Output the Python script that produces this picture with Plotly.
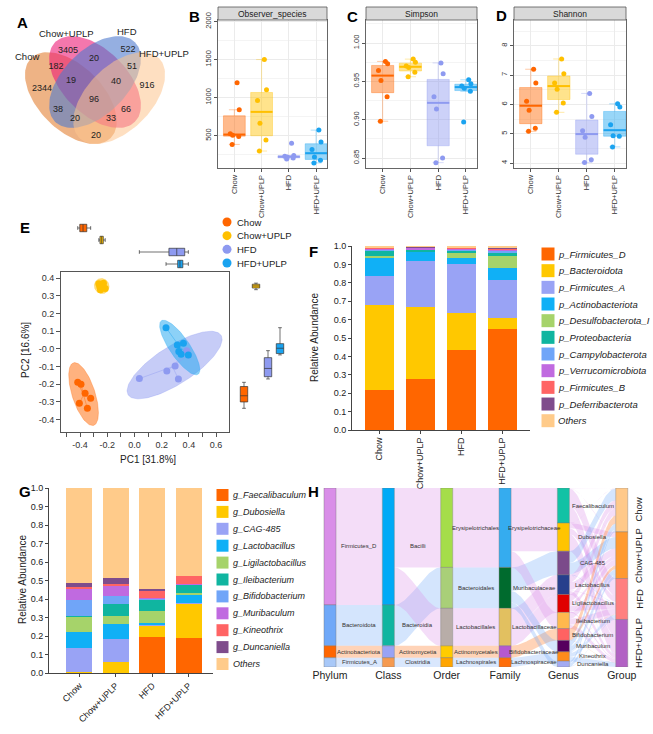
import numpy as np
import plotly.graph_objects as go

W, H = 653, 734
FONT = "Liberation Sans, Arial, Helvetica, sans-serif"

# ---------------- data ----------------
groups = ["Chow", "Chow+UPLP", "HFD", "HFD+UPLP"]
group_colors = ["#FF6600", "#FFC000", "#8E9AF0", "#1AA3F0"]

# A: Venn diagram
venn_set_names = ["Chow", "Chow+UPLP", "HFD", "HFD+UPLP"]
venn_region_counts = [2344, 3405, 522, 916, 182, 20, 51, 19, 40, 96, 38, 66, 20, 33, 20]

# B-D: alpha diversity (6 mice per group)
observed_species = [[1195, 840, 525, 505, 490, 385],
                    [1500, 1103, 961, 664, 444, 298],
                    [400, 240, 228, 218, 205, 192],
                    [573, 418, 319, 220, 177, 142]]
simpson_index = [[0.976, 0.973, 0.964, 0.951, 0.930, 0.898],
                 [0.979, 0.975, 0.970, 0.968, 0.962, 0.956],
                 [0.974, 0.960, 0.930, 0.914, 0.850, 0.844],
                 [0.952, 0.947, 0.944, 0.941, 0.937, 0.897]]
shannon_index = [[7.20, 6.73, 6.11, 5.80, 5.19, 5.08],
                 [7.55, 7.05, 6.73, 6.52, 6.05, 5.73],
                 [6.375, 5.59, 5.10, 4.875, 4.11, 4.02],
                 [6.02, 5.91, 5.31, 4.93, 4.91, 4.55]]

# E: PCoA scores
pc1_scores = [[-0.417, -0.393, -0.363, -0.322, -0.405, -0.346],
              [-0.262, -0.228, -0.250, -0.215, -0.255, -0.232],
              [0.036, 0.238, 0.299, 0.323, 0.385, 0.396],
              [0.232, 0.315, 0.360, 0.326, 0.343, 0.396]]
pc2_scores = [[-0.189, -0.200, -0.251, -0.279, -0.307, -0.336],
              [0.368, 0.372, 0.335, 0.342, 0.352, 0.360],
              [-0.168, -0.125, -0.096, -0.170, -0.010, -0.034],
              [0.120, 0.0225, 0.032, -0.015, -0.030, -0.034]]

# F: phylum composition
phylum_names = ["p_Firmicutes_D", "p_Bacteroidota", "p_Firmicutes_A", "p_Actinobacteriota",
                "p_Desulfobacterota_I", "p_Proteobacteria", "p_Campylobacterota",
                "p_Verrucomicrobiota", "p_Firmicutes_B", "p_Deferribacterota", "Others"]
phylum_colors = ["#FF6600", "#FFC800", "#99A3F5", "#10B0F6", "#A6D36A", "#10B5A0",
                 "#70A5F8", "#C06AE0", "#FF6464", "#7F4C8C", "#FFCB8A"]
phylum_abundance = [[0.220, 0.280, 0.437, 0.550],
                    [0.460, 0.390, 0.200, 0.060],
                    [0.155, 0.248, 0.267, 0.204],
                    [0.100, 0.050, 0.030, 0.068],
                    [0.012, 0.005, 0.033, 0.062],
                    [0.030, 0.006, 0.009, 0.023],
                    [0.005, 0.004, 0.006, 0.008],
                    [0.005, 0.008, 0.004, 0.005],
                    [0.005, 0.003, 0.007, 0.005],
                    [0.003, 0.002, 0.002, 0.008],
                    [0.005, 0.004, 0.005, 0.007]]

# G: genus composition
genus_names = ["Faecalibaculum", "Dubosiella", "CAG-485", "Lactobacillus", "Ligilactobacillus",
               "Ileibacterium", "Bifidobacterium", "Muribaculum", "Kineothrix", "Duncaniella"]
genus_bar_colors = ["#FF6600", "#FFC800", "#99A3F5", "#10B0F6", "#A6D36A", "#10B5A0",
                    "#70A5F8", "#C06AE0", "#FF6464", "#7F4C8C", "#FFCB8A"]
genus_abundance = [[0.003, 0.002, 0.194, 0.189],
                   [0.002, 0.056, 0.065, 0.189],
                   [0.130, 0.125, 0.005, 0.002],
                   [0.085, 0.083, 0.006, 0.043],
                   [0.083, 0.040, 0.063, 0.012],
                   [0.003, 0.068, 0.066, 0.042],
                   [0.088, 0.040, 0.002, 0.001],
                   [0.065, 0.057, 0.002, 0.002],
                   [0.005, 0.009, 0.044, 0.045],
                   [0.022, 0.036, 0.006, 0.001],
                   [0.514, 0.484, 0.547, 0.474]]

# H: taxonomy of the top genera
sankey_axes = ["Phylum", "Class", "Order", "Family", "Genus", "Group"]
sk_phyla = ["Firmicutes_D", "Bacteroidota", "Actinobacteriota", "Firmicutes_A"]
sk_classes = ["Bacilli", "Bacteroidia", "Actinomycetia", "Clostridia"]
sk_orders = ["Erysipelotrichales", "Bacteroidales", "Lactobacillales", "Actinomycetales", "Lachnospirales"]
sk_families = ["Erysipelotrichaceae", "Muribaculaceae", "Lactobacillaceae", "Bifidobacteriaceae", "Lachnospiraceae"]
genus_family = ["Erysipelotrichaceae", "Erysipelotrichaceae", "Muribaculaceae", "Lactobacillaceae",
                "Lactobacillaceae", "Erysipelotrichaceae", "Bifidobacteriaceae", "Muribaculaceae",
                "Lachnospiraceae", "Muribaculaceae"]
family_order = ["Erysipelotrichales", "Bacteroidales", "Lactobacillales", "Actinomycetales", "Lachnospirales"]
order_class = ["Bacilli", "Bacteroidia", "Bacilli", "Actinomycetia", "Clostridia"]
class_phylum = ["Firmicutes_D", "Bacteroidota", "Actinobacteriota", "Firmicutes_A"]

sk_phylum_colors = ["#D98EE8", "#6FA8F8", "#FF6600", "#A8C8F8"]
sk_class_colors = ["#00AAF6", "#10B5A0", "#99A3F5", "#F59A50"]
sk_order_colors = ["#A5DD4A", "#A9CF78", "#B8ADA8", "#FFCC00", "#FFA500"]
sk_family_colors = ["#35ACEF", "#006B2E", "#E2C060", "#B559D0", "#FF6E0A"]
sk_genus_colors = ["#12C2A5", "#FFC400", "#7B4A8A", "#263F8C", "#E00000", "#FFB84D",
                   "#FF6262", "#56005E", "#FF8C1A", "#A3AAF2"]
sk_group_colors = ["#FFC98A", "#FF9A30", "#FF8080", "#B262C4"]
sk_flow_colors = ["rgba(218,142,232,0.30)", "rgba(111,168,248,0.30)",
                  "rgba(255,130,50,0.35)", "rgba(130,175,248,0.30)"]


# ---------------- helpers ----------------
def xdom(a, b):
    return [a / W, b / W]


def ydom(top, bot):
    return [1 - bot / H, 1 - top / H]


def rgba(hexc, a):
    h = hexc.lstrip("#")
    r, g, b = int(h[0:2], 16), int(h[2:4], 16), int(h[4:6], 16)
    return f"rgba({r},{g},{b},{a})"


def ticks_range(lo, hi, step):
    vals = np.round(np.arange(lo, hi + step / 2, step), 6)
    return list(vals), [f"{v:.1f}" for v in vals]


fig = go.Figure()
annotations = []
shapes = []
layout = dict(width=W, height=H, margin=dict(l=0, r=0, t=0, b=0, autoexpand=False),
              paper_bgcolor="white", plot_bgcolor="rgba(0,0,0,0)", showlegend=False,
              font=dict(family=FONT, color="#222", size=9), barmode="stack")


def ann(x, y, text, size=9, ref="paper", **kw):
    if ref == "paper":
        d = dict(x=x / W, y=1 - y / H, xref="paper", yref="paper")
    else:
        d = dict(x=x, y=y, xref=ref[0], yref=ref[1])
    d.update(text=text, showarrow=False, xanchor="center", yanchor="middle",
             font=dict(size=size, family=FONT, color=kw.pop("color", "#222")))
    d.update(kw)
    annotations.append(d)


# overlay axis in pixel units (venn + legends)
layout["xaxis"] = dict(domain=[0, 1], range=[0, W], visible=False)
layout["yaxis"] = dict(domain=[0, 1], range=[H, 0], visible=False)

# ---------------- A: Venn ----------------
venn_cx = [0.35, 0.5, 0.5, 0.65]
venn_cy = [0.47, 0.57, 0.57, 0.47]
venn_rot = [-45, -45, 45, 45]
venn_fills = ["rgba(228,132,58,0.62)", "rgba(236,28,118,0.60)", "rgba(78,122,205,0.60)",
              "rgba(253,196,142,0.55)"]
tt = np.linspace(0, 2 * np.pi, 120)
for i in range(4):
    ang = np.radians(venn_rot[i])
    ux = venn_cx[i] + 0.35 * np.cos(tt) * np.cos(ang) - 0.2 * np.sin(tt) * np.sin(ang)
    uy = venn_cy[i] + 0.35 * np.cos(tt) * np.sin(ang) + 0.2 * np.sin(tt) * np.cos(ang)
    fig.add_trace(go.Scatter(x=25 + (ux - 0.065) * 161, y=144 - (uy - 0.185) * 161,
                             mode="lines", fill="toself", fillcolor=venn_fills[i],
                             line=dict(width=0), hoverinfo="skip", xaxis="x", yaxis="y"))
venn_region_pos = [(42, 89), (68, 51), (128, 50), (147, 86), (56, 67), (94, 59), (132, 67),
                   (71, 81), (116, 82), (94, 100), (58, 110), (126, 110), (75, 119), (111, 119), (96, 136)]
fig.add_trace(go.Scatter(x=[p[0] for p in venn_region_pos], y=[p[1] for p in venn_region_pos],
                         mode="text", text=[str(c) for c in venn_region_counts],
                         textfont=dict(size=9, family=FONT, color="#222"), xaxis="x", yaxis="y"))
venn_label_pos = [(27, 56), (66, 33), (127, 31), (164, 53)]
for (px, py), name in zip(venn_label_pos, venn_set_names):
    ann(px, py, name, size=9.5)

# ---------------- B-D: boxplots ----------------
JIT = [0.10, 0.18, -0.15, -0.06, 0.16, -0.08]
alpha_panels = [("Observer_species", observed_species, 218, 327, [75, 2020], 500, 250, None),
                ("Simpson", simpson_index, 366, 477, [0.837, 1.03], 0.05, 0.025, ".2f"),
                ("Shannon", shannon_index, 514, 626, [3.83, 8.88], 1, 0.5, None)]
for k, (title, data, x0, x1, yr, dt, mdt, fmt) in enumerate(alpha_panels):
    ax = k + 2
    xa, ya = f"x{ax}", f"y{ax}"
    for i, vals in enumerate(data):
        v = np.asarray(vals, dtype=float)
        q1, med, q3 = np.percentile(v, [25, 50, 75])
        iqr = q3 - q1
        lo = v[v >= q1 - 1.5 * iqr].min()
        hi = v[v <= q3 + 1.5 * iqr].max()
        c = group_colors[i]
        fig.add_trace(go.Box(x=[i], q1=[q1], median=[med], q3=[q3], lowerfence=[lo], upperfence=[hi],
                             width=0.8, fillcolor=rgba(c, 0.45), line=dict(color=rgba(c, 0.35), width=1),
                             boxpoints=False, xaxis=xa, yaxis=ya, hoverinfo="skip"))
        fig.add_trace(go.Scatter(x=[i - 0.4, i + 0.4], y=[med, med], mode="lines",
                                 line=dict(color=c, width=2), xaxis=xa, yaxis=ya))
        fig.add_trace(go.Scatter(x=[i + j for j in JIT[:len(v)]], y=v, mode="markers",
                                 marker=dict(color=c, size=5), xaxis=xa, yaxis=ya))
    layout[f"xaxis{ax}"] = dict(domain=xdom(x0, x1), range=[-0.6, 3.4], anchor=ya,
                                tickvals=[0, 1, 2, 3], ticktext=groups, tickangle=-90,
                                tickfont=dict(size=7.5, color="#333"), showgrid=True, gridcolor="#EBEBEB",
                                showline=True, mirror=True, linecolor="#666", linewidth=0.8,
                                ticks="outside", ticklen=3, tickcolor="#555", zeroline=False)
    yd = dict(domain=ydom(20, 168), range=yr, anchor=xa, dtick=dt, tick0=0, tickangle=-90,
              tickfont=dict(size=7.5, color="#333"), showgrid=True, gridcolor="#EBEBEB",
              minor=dict(dtick=mdt, showgrid=True, gridcolor="#F4F4F4"),
              showline=True, mirror=True, linecolor="#666", linewidth=0.8,
              ticks="outside", ticklen=3, tickcolor="#555", zeroline=False)
    if fmt:
        yd["tickformat"] = fmt
    layout[f"yaxis{ax}"] = yd
    shapes.append(dict(type="rect", xref="paper", yref="paper", x0=x0 / W, x1=x1 / W,
                       y0=1 - 20 / H, y1=1 - 7 / H, fillcolor="#D9D9D9",
                       line=dict(color="#555", width=0.8)))
    ann((x0 + x1) / 2, 13.5, title, size=8.5)

# ---------------- E: PCoA ----------------
def cov_trob(X, nu=5, maxit=25, tol=0.01):
    n, p = X.shape
    loc = X.mean(0)
    w = np.ones(n)
    Xc = X - loc
    for _ in range(maxit):
        w0 = w
        Xc = X - loc
        S = (Xc * (w / w.sum())[:, None]).T @ Xc
        Q = np.einsum("ij,jk,ik->i", Xc, np.linalg.inv(S), Xc)
        w = (nu + p) / (nu + Q)
        loc = (w[:, None] * X).sum(0) / w.sum()
        if np.all(np.abs(w - w0) < tol):
            break
    cov = (w[:, None] * Xc).T @ Xc / n
    return loc, cov


for i in range(4):
    X = np.column_stack([pc1_scores[i], pc2_scores[i]])
    loc, cov = cov_trob(X)
    d = X.shape[0] - 1
    fq = d / 2 * ((0.05) ** (-2 / d) - 1)
    radius = np.sqrt(2 * fq)
    L = np.linalg.cholesky(cov)
    circ = np.column_stack([np.cos(tt), np.sin(tt)])
    ell = loc + radius * circ @ L.T
    fig.add_trace(go.Scatter(x=ell[:, 0], y=ell[:, 1], mode="lines", fill="toself",
                             fillcolor=rgba(group_colors[i], 0.5), line=dict(width=0.6, color=rgba(group_colors[i], 0.5)),
                             xaxis="x5", yaxis="y5", hoverinfo="skip"))
for i in range(4):
    mx, my = np.mean(pc1_scores[i]), np.mean(pc2_scores[i])
    sx, sy = [], []
    for a, b in zip(pc1_scores[i], pc2_scores[i]):
        sx += [mx, a, None]
        sy += [my, b, None]
    fig.add_trace(go.Scatter(x=sx, y=sy, mode="lines", line=dict(color=rgba(group_colors[i], 0.6), width=0.7),
                             xaxis="x5", yaxis="y5"))
for i in range(4):
    fig.add_trace(go.Scatter(x=pc1_scores[i], y=pc2_scores[i], mode="markers",
                             marker=dict(color=group_colors[i], size=7), xaxis="x5", yaxis="y5"))

xtv, xtt = ticks_range(-0.4, 0.6, 0.2)
ytv, ytt = ticks_range(-0.4, 0.4, 0.1)
layout["xaxis5"] = dict(domain=xdom(61, 229), range=[-0.54, 0.695], anchor="y5", tickvals=xtv, ticktext=xtt,
                        showline=True, mirror=True, linecolor="#555", linewidth=1,
                        ticks="outside", ticklen=4, tickcolor="#555", showgrid=False, zeroline=False,
                        minor=dict(tickvals=list(np.round(np.arange(-0.5, 0.65, 0.2), 6)), ticks="outside",
                                   ticklen=4, tickcolor="#555"),
                        tickfont=dict(size=9, color="#333"))
layout["yaxis5"] = dict(domain=ydom(272, 432), range=[-0.47, 0.435], anchor="x5", tickvals=ytv, ticktext=ytt,
                        showline=True, mirror=True, linecolor="#555", linewidth=1,
                        ticks="outside", ticklen=4, tickcolor="#555", showgrid=False, zeroline=False,
                        tickfont=dict(size=9, color="#333"))
ann(148, 459, "PC1 [31.8%]", size=10)
ann(25, 350, "PC2 [16.6%]", size=10, textangle=-90)

for i in range(4):
    for vals, orient, xa, ya in ((pc1_scores[i], "h", "x6", "y6"), (pc2_scores[i], "v", "x7", "y7")):
        v = np.asarray(vals)
        q1, med, q3 = np.percentile(v, [25, 50, 75])
        kw = dict(q1=[q1], median=[med], q3=[q3], lowerfence=[v.min()], upperfence=[v.max()],
                  width=0.62, fillcolor=group_colors[i], line=dict(color="#333", width=0.7),
                  boxpoints=False, xaxis=xa, yaxis=ya, orientation=orient, hoverinfo="skip")
        if orient == "h":
            kw["y"] = [i]
        else:
            kw["x"] = [i]
        fig.add_trace(go.Box(**kw))
layout["xaxis6"] = dict(domain=xdom(61, 229), matches="x5", anchor="y6", visible=False)
layout["yaxis6"] = dict(domain=ydom(222, 270), range=[3.5, -0.5], anchor="x6", visible=False)
layout["xaxis7"] = dict(domain=xdom(238, 286), range=[-0.5, 3.5], anchor="y7", visible=False)
layout["yaxis7"] = dict(domain=ydom(272, 432), matches="y5", anchor="x7", visible=False)

# E legend
for i, g in enumerate(groups):
    yy = 222 + 13.67 * i
    fig.add_trace(go.Scatter(x=[227], y=[yy], mode="markers", marker=dict(color=group_colors[i], size=9),
                             xaxis="x", yaxis="y"))
    ann(235, yy, g, size=9.5, xanchor="left")

# ---------------- F: phylum stacked bars ----------------
for k, name in enumerate(phylum_names):
    fig.add_trace(go.Bar(x=[0, 1, 2, 3], y=phylum_abundance[k], marker=dict(color=phylum_colors[k], line=dict(width=0)),
                         width=0.707, xaxis="x8", yaxis="y8", hoverinfo="skip"))
    yy = 254 + 16.67 * k
    fig.add_trace(go.Scatter(x=[548], y=[yy], mode="markers",
                             marker=dict(symbol="square", size=13, color=phylum_colors[k]), xaxis="x", yaxis="y"))
    ann(556, yy, f"<i>{name}</i>", size=9.5, xanchor="left")
layout["xaxis8"] = dict(domain=xdom(352, 530), range=[-0.67, 3.67], anchor="y8", tickvals=[0, 1, 2, 3],
                        ticktext=groups, tickangle=-90, showline=True, linecolor="#444", ticks="outside",
                        ticklen=3, tickcolor="#444", showgrid=False, zeroline=False,
                        tickfont=dict(size=9, color="#222"))
layout["yaxis8"] = dict(domain=ydom(246, 430), range=[0, 1.0005], anchor="x8", dtick=0.1, tick0=0,
                        tickformat=".1f", showline=True, linecolor="#444", ticks="outside", ticklen=3,
                        tickcolor="#444", showgrid=False, zeroline=False, tickfont=dict(size=9, color="#222"))
ann(314, 338, "Relative Abundance", size=10, textangle=-90)

# ---------------- G: genus stacked bars ----------------
genus_legend = [f"g_{n}" for n in genus_names] + ["Others"]
for k, name in enumerate(genus_legend):
    fig.add_trace(go.Bar(x=[0, 1, 2, 3], y=genus_abundance[k], marker=dict(color=genus_bar_colors[k], line=dict(width=0)),
                         width=0.712, xaxis="x9", yaxis="y9", hoverinfo="skip"))
    yy = 495 + 16.9 * k
    fig.add_trace(go.Scatter(x=[222.5], y=[yy], mode="markers",
                             marker=dict(symbol="square", size=12, color=genus_bar_colors[k]), xaxis="x", yaxis="y"))
    ann(231, yy, f"<i>{name}</i>", size=9, xanchor="left")
layout["xaxis9"] = dict(domain=xdom(49, 213), range=[-0.833, 3.66], anchor="y9", tickvals=[0, 1, 2, 3],
                        ticktext=groups, tickangle=-45, showline=True, linecolor="#444", ticks="outside",
                        ticklen=3, tickcolor="#444", showgrid=False, zeroline=False,
                        tickfont=dict(size=9, color="#222"))
layout["yaxis9"] = dict(domain=ydom(488, 673), range=[0, 1.0005], anchor="x9", dtick=0.1, tick0=0,
                        tickformat=".1f", showline=True, linecolor="#444", ticks="outside", ticklen=3,
                        tickcolor="#444", showgrid=False, zeroline=False, tickfont=dict(size=9, color="#222"))
ann(22, 580, "Relative Abundance", size=10, textangle=-90)

# ---------------- H: alluvial ----------------
strata = [sk_phyla, sk_classes, sk_orders, sk_families, genus_names, groups]
strata_colors = [sk_phylum_colors, sk_class_colors, sk_order_colors, sk_family_colors, sk_genus_colors, sk_group_colors]
rows = []
for gi, gname in enumerate(genus_names):
    fam = genus_family[gi]
    ordr = family_order[sk_families.index(fam)]
    cls = order_class[sk_orders.index(ordr)]
    phy = class_phylum[sk_classes.index(cls)]
    for j, grp in enumerate(groups):
        rows.append(([phy, cls, ordr, fam, gname, grp], genus_abundance[gi][j]))
total = sum(v for _, v in rows)

tops = []
for a, st in enumerate(strata):
    tot = {s: 0.0 for s in st}
    for keys, v in rows:
        tot[keys[a]] += v
    t, cur = {}, total
    for s in st:
        t[s] = (cur, cur - tot[s])
        cur -= tot[s]
    tops.append(t)

NW = 0.103
xs = np.linspace(0, 1, 40)
sm = xs * xs * (3 - 2 * xs)
for a in range(5):
    pairs, pphy = {}, {}
    for keys, v in rows:
        key = (keys[a], keys[a + 1])
        pairs[key] = pairs.get(key, 0) + v
        pphy[key] = keys[0]
    ia = {s: n for n, s in enumerate(strata[a])}
    ib = {s: n for n, s in enumerate(strata[a + 1])}
    src, tgt = {}, {}
    off = {s: 0.0 for s in strata[a]}
    for key in sorted(pairs, key=lambda p: (ia[p[0]], ib[p[1]])):
        src[key] = tops[a][key[0]][0] - off[key[0]]
        off[key[0]] += pairs[key]
    off = {s: 0.0 for s in strata[a + 1]}
    for key in sorted(pairs, key=lambda p: (ib[p[1]], ia[p[0]])):
        tgt[key] = tops[a + 1][key[1]][0] - off[key[1]]
        off[key[1]] += pairs[key]
    for key, v in pairs.items():
        xl = a + NW + (1 - 2 * NW) * xs
        ytop = src[key] + (tgt[key] - src[key]) * sm
        ybot = ytop - v
        fig.add_trace(go.Scatter(x=np.concatenate([xl, xl[::-1]]), y=np.concatenate([ytop, ybot[::-1]]),
                                 mode="lines", fill="toself", line=dict(width=0),
                                 fillcolor=sk_flow_colors[sk_phyla.index(pphy[key])],
                                 xaxis="x10", yaxis="y10", hoverinfo="skip"))

for a, st in enumerate(strata):
    for n, s in enumerate(st):
        y1, y0 = tops[a][s]
        shapes.append(dict(type="rect", xref="x10", yref="y10", x0=a - NW, x1=a + NW, y0=y0, y1=y1,
                           fillcolor=strata_colors[a][n], line=dict(color="#777", width=0.4), layer="above"))
        if a < 5:
            ann(a + 0.5, (y0 + y1) / 2, s, size=6, ref=("x10", "y10"), color="#333")
        else:
            ann(a + 0.29, (y0 + y1) / 2, s, size=9.5, ref=("x10", "y10"), textangle=-90)

layout["xaxis10"] = dict(domain=xdom(312.5, 648), range=[-0.3, 5.45], anchor="y10", tickvals=list(range(6)),
                         ticktext=sankey_axes, showgrid=False, zeroline=False, showline=False, ticks="",
                         tickfont=dict(size=10.5, color="#222"))
layout["yaxis10"] = dict(domain=ydom(488, 667), range=[0, total], anchor="x10", visible=False)

# ---------------- panel letters ----------------
for letter, (px, py) in zip("ABCDEFGH", [(22, 22), (194, 17), (352, 17), (502, 15), (25, 228),
                                         (313, 251), (25, 491), (313, 491)]):
    ann(px, py, f"<b>{letter}</b>", size=15, color="#000")

layout["annotations"] = annotations
layout["shapes"] = shapes
fig.update_layout(**layout)
fig.update_xaxes(automargin=False)
fig.update_yaxes(automargin=False)
fig.write_html("out.html")
